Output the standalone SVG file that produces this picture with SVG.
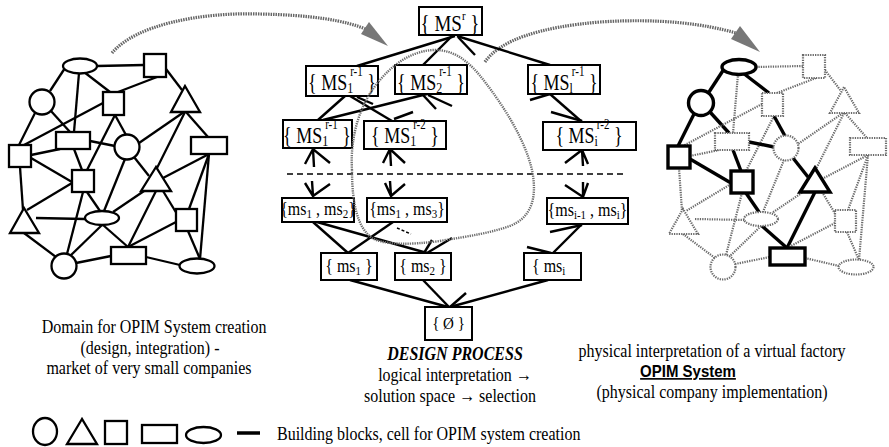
<svg xmlns="http://www.w3.org/2000/svg" width="889" height="447" viewBox="0 0 889 447">
<style>
.n{fill:#fff;stroke:#000;stroke-width:2.3}
.bn{fill:#fff;stroke:#000;stroke-width:3.4}
.dn{fill:#fff;stroke:#6a6a6a;stroke-width:2.2;stroke-dasharray:1.3 1.1}
.e line{stroke:#000;stroke-width:2.3}
.d{stroke:#6a6a6a;stroke-width:2.2;stroke-dasharray:1.3 1.1}
.b{stroke:#000;stroke-width:3.4}
.box{fill:#fff;stroke:#000;stroke-width:2}
.lat line,.lat path{stroke:#000;stroke-width:2.4;fill:none}
.arc{fill:none;stroke:#666;stroke-width:3.2;stroke-dasharray:1.5 1}
.loop{fill:none;stroke:#6e6e6e;stroke-width:2.4;stroke-dasharray:1.3 1}
.ah{fill:#777}
text{font-family:"Liberation Serif","Times New Roman",serif;fill:#000}
.s19{font-size:19px}.s18{font-size:18px}.s16{font-size:16px}.s15{font-size:15px}
.sb{font-size:12px}.sp{font-size:11px}.sb2{font-size:11px}
.dp{font-size:16px;font-weight:bold;font-style:italic}
.sans{font-family:"Liberation Sans",Arial,sans-serif;font-weight:bold;font-size:15px;text-decoration:underline}
</style>

<g id="arcs">
<path class="arc" d="M112,53 C135,25 200,12 260,14 C310,15 345,20 368,30"/>
<polygon class="ah" points="369,22 361,34 388,46"/>
<path class="arc" d="M485,62 C500,40 540,27 600,22 C660,18 705,24 736,33"/>
<polygon class="ah" points="740,26 731,39 760,52"/>
</g>

<g id="left-connectors" class="e">
<line x1="97" y1="66" x2="144" y2="65"/>
<line x1="65" y1="68" x2="50" y2="91"/>
<line x1="79" y1="73" x2="74" y2="132"/>
<line x1="84" y1="72" x2="110" y2="92"/>
<line x1="157" y1="77" x2="118" y2="92"/>
<line x1="166" y1="69" x2="182" y2="90"/>
<line x1="35" y1="113" x2="19" y2="145"/>
<line x1="51" y1="111" x2="70" y2="132"/>
<line x1="103" y1="103" x2="24" y2="145"/>
<line x1="115" y1="115" x2="87" y2="170"/>
<line x1="115" y1="115" x2="126" y2="135"/>
<line x1="184" y1="112" x2="139" y2="143"/>
<line x1="185" y1="112" x2="157" y2="168"/>
<line x1="186" y1="112" x2="208" y2="137"/>
<line x1="90" y1="141" x2="115" y2="146"/>
<line x1="74" y1="149" x2="82" y2="170"/>
<line x1="31" y1="155" x2="60" y2="149"/>
<line x1="31" y1="158" x2="72" y2="182"/>
<line x1="20" y1="167" x2="23" y2="210"/>
<line x1="72" y1="183" x2="27" y2="210"/>
<line x1="87" y1="192" x2="100" y2="211"/>
<line x1="83" y1="192" x2="67" y2="254"/>
<line x1="125" y1="159" x2="104" y2="211"/>
<line x1="134" y1="157" x2="149" y2="176"/>
<line x1="147" y1="189" x2="113" y2="212"/>
<line x1="163" y1="178" x2="209" y2="154"/>
<line x1="156" y1="191" x2="128" y2="247"/>
<line x1="163" y1="191" x2="177" y2="214"/>
<line x1="209" y1="154" x2="189" y2="209"/>
<line x1="209" y1="154" x2="200" y2="259"/>
<line x1="176" y1="222" x2="128" y2="247"/>
<line x1="188" y1="231" x2="200" y2="259"/>
<line x1="36" y1="218" x2="85" y2="219"/>
<line x1="24" y1="233" x2="56" y2="257"/>
<line x1="102" y1="225" x2="70" y2="256"/>
<line x1="103" y1="225" x2="128" y2="247"/>
<line x1="76" y1="263" x2="111" y2="256"/>
<line x1="146" y1="257" x2="180" y2="265"/>
</g>
<g id="L-E1"><ellipse class="n" cx="80" cy="66" rx="17" ry="7.5"/></g>
<g id="L-S1"><rect class="n" x="144" y="54" width="22" height="23"/></g>
<g id="L-C1"><circle class="n" cx="42" cy="102" r="12.5"/></g>
<g id="L-S2"><rect class="n" x="103" y="92" width="21" height="23"/></g>
<g id="L-T1"><polygon class="n" points="185,86 171,112 200,112"/></g>
<g id="L-R1"><rect class="n" x="56" y="132" width="34" height="17"/></g>
<g id="L-C2"><circle class="n" cx="127" cy="147" r="12.5"/></g>
<g id="L-R2"><rect class="n" x="191" y="137" width="36" height="17"/></g>
<g id="L-S3"><rect class="n" x="9" y="145" width="22" height="22"/></g>
<g id="L-S4"><rect class="n" x="72" y="170" width="22" height="22"/></g>
<g id="L-T2"><polygon class="n" points="156,167 141,191 171,191"/></g>
<g id="L-E2"><ellipse class="n" cx="102" cy="218" rx="17" ry="7"/></g>
<g id="L-S5"><rect class="n" x="176" y="209" width="21" height="22"/></g>
<g id="L-T3"><polygon class="n" points="24,208 10,233 39,233"/></g>
<g id="L-C3"><circle class="n" cx="64" cy="266" r="12.5"/></g>
<g id="L-R3"><rect class="n" x="111" y="247" width="35" height="17"/></g>
<g id="L-E3"><ellipse class="n" cx="197" cy="266" rx="17.5" ry="7.5"/></g>

<g transform="translate(659,1)">
<g id="right-connectors">
<line class="d" x1="97" y1="66" x2="144" y2="65"/>
<line class="b" x1="65" y1="68" x2="50" y2="91"/>
<line class="d" x1="79" y1="73" x2="74" y2="132"/>
<line class="b" x1="84" y1="72" x2="110" y2="92"/>
<line class="d" x1="157" y1="77" x2="118" y2="92"/>
<line class="d" x1="166" y1="69" x2="182" y2="90"/>
<line class="b" x1="35" y1="113" x2="19" y2="145"/>
<line class="b" x1="51" y1="111" x2="70" y2="132"/>
<line class="d" x1="103" y1="103" x2="24" y2="145"/>
<line class="d" x1="115" y1="115" x2="87" y2="170"/>
<line class="b" x1="115" y1="115" x2="126" y2="135"/>
<line class="d" x1="184" y1="112" x2="139" y2="143"/>
<line class="d" x1="185" y1="112" x2="157" y2="168"/>
<line class="d" x1="186" y1="112" x2="208" y2="137"/>
<line class="b" x1="90" y1="141" x2="115" y2="146"/>
<line class="b" x1="74" y1="149" x2="82" y2="170"/>
<line class="d" x1="31" y1="155" x2="60" y2="149"/>
<line class="b" x1="31" y1="158" x2="72" y2="182"/>
<line class="d" x1="20" y1="167" x2="23" y2="210"/>
<line class="d" x1="72" y1="183" x2="27" y2="210"/>
<line class="b" x1="87" y1="192" x2="100" y2="211"/>
<line class="d" x1="83" y1="192" x2="67" y2="254"/>
<line class="d" x1="125" y1="159" x2="104" y2="211"/>
<line class="b" x1="134" y1="157" x2="149" y2="176"/>
<line class="d" x1="147" y1="189" x2="113" y2="212"/>
<line class="d" x1="163" y1="178" x2="209" y2="154"/>
<line class="b" x1="156" y1="191" x2="128" y2="247"/>
<line class="d" x1="163" y1="191" x2="177" y2="214"/>
<line class="d" x1="209" y1="154" x2="189" y2="209"/>
<line class="d" x1="209" y1="154" x2="200" y2="259"/>
<line class="d" x1="176" y1="222" x2="128" y2="247"/>
<line class="d" x1="188" y1="231" x2="200" y2="259"/>
<line class="d" x1="36" y1="218" x2="85" y2="219"/>
<line class="d" x1="24" y1="233" x2="56" y2="257"/>
<line class="d" x1="102" y1="225" x2="70" y2="256"/>
<line class="b" x1="103" y1="225" x2="128" y2="247"/>
<line class="d" x1="76" y1="263" x2="111" y2="256"/>
<line class="d" x1="146" y1="257" x2="180" y2="265"/>
</g>
<g id="R-E1"><ellipse class="bn" cx="80" cy="66" rx="17" ry="7.5"/></g>
<g id="R-S1"><rect class="dn" x="144" y="54" width="22" height="23"/></g>
<g id="R-C1"><circle class="bn" cx="42" cy="102" r="12.5"/></g>
<g id="R-S2"><rect class="dn" x="103" y="92" width="21" height="23"/></g>
<g id="R-T1"><polygon class="dn" points="185,86 171,112 200,112"/></g>
<g id="R-R1"><rect class="dn" x="56" y="132" width="34" height="17"/></g>
<g id="R-C2"><circle class="dn" cx="127" cy="147" r="12.5"/></g>
<g id="R-R2"><rect class="dn" x="191" y="137" width="36" height="17"/></g>
<g id="R-S3"><rect class="bn" x="9" y="145" width="22" height="22"/></g>
<g id="R-S4"><rect class="bn" x="72" y="170" width="22" height="22"/></g>
<g id="R-T2"><polygon class="bn" points="156,167 141,191 171,191"/></g>
<g id="R-E2"><ellipse class="dn" cx="102" cy="218" rx="17" ry="7"/></g>
<g id="R-S5"><rect class="dn" x="176" y="209" width="21" height="22"/></g>
<g id="R-T3"><polygon class="dn" points="24,208 10,233 39,233"/></g>
<g id="R-C3"><circle class="dn" cx="64" cy="266" r="12.5"/></g>
<g id="R-R3"><rect class="bn" x="111" y="247" width="35" height="17"/></g>
<g id="R-E3"><ellipse class="dn" cx="197" cy="266" rx="17.5" ry="7.5"/></g>
</g>

<g id="lattice-connectors" class="lat">
<line x1="455" y1="36" x2="357" y2="66"/>
<line x1="452" y1="36" x2="423" y2="65"/>
<line x1="457" y1="36" x2="550" y2="65"/>
<line x1="458" y1="37" x2="475" y2="55"/>
<line x1="345" y1="96" x2="318" y2="120"/>
<line x1="350" y1="96" x2="392" y2="121"/>
<line x1="357" y1="97" x2="373" y2="104"/>
<line x1="427" y1="94" x2="323" y2="120"/>
<line x1="423" y1="95" x2="436" y2="109"/>
<line x1="428" y1="95" x2="452" y2="106"/>
<line x1="394" y1="119" x2="413" y2="112"/>
<line x1="550" y1="94" x2="582" y2="122"/>
<line x1="530" y1="100" x2="550" y2="94"/>
<line x1="551" y1="112" x2="582" y2="121"/>
<path d="M305,164 L313,149 L330,163 M313,149 L314,167"/>
<path d="M383,163 L390,149 L405,163 M390,149 L391,166"/>
<path d="M565,163 L582,150 L588,164 M582,150 L583,166"/>
<line x1="287" y1="174" x2="624" y2="174" style="stroke-width:1.5;stroke-dasharray:6 4"/>
<path d="M305,183 L313,196 L330,184 M312,181 L313,196"/>
<path d="M385,183 L391,196 L405,184 M390,181 L391,196"/>
<path d="M565,185 L583,197 L588,183 M583,182 L583,197"/>
<line x1="313" y1="222" x2="348" y2="253"/>
<line x1="317" y1="222" x2="427" y2="253"/>
<line x1="393" y1="222" x2="348" y2="253"/>
<line x1="397" y1="228" x2="411" y2="234" style="stroke-width:1.5;stroke-dasharray:3 2"/>
<line x1="432" y1="240" x2="424" y2="253"/>
<line x1="452" y1="238" x2="427" y2="253"/>
<line x1="582" y1="224" x2="553" y2="253"/>
<line x1="550" y1="232" x2="582" y2="225"/>
<line x1="527" y1="247" x2="551" y2="253"/>
<line x1="350" y1="280" x2="448" y2="307"/>
<line x1="423" y1="280" x2="449" y2="307"/>
<line x1="548" y1="280" x2="450" y2="307"/>
<line x1="450" y1="307" x2="466" y2="293"/>
</g>

<g id="n-MSr"><rect class="box" x="419" y="7" width="63" height="28"/>
<text class="s19" text-anchor="middle" transform="translate(450 31) scale(1 1.2)">{ MS<tspan class="sp" dy="-9">r</tspan><tspan dy="9"> }</tspan></text></g>
<g id="n-MS1r1"><rect class="box" x="306" y="66" width="72" height="30"/>
<text class="s18" text-anchor="middle" transform="translate(342 90) scale(1 1.25)">{ MS<tspan class="sb" dy="2.5">1</tspan><tspan class="sp" dx="-3" dy="-13.5">r-1</tspan><tspan dy="11"> }</tspan></text></g>
<g id="n-MS2r1"><rect class="box" x="395" y="65" width="72" height="29"/>
<text class="s18" text-anchor="middle" transform="translate(431 90) scale(1 1.25)">{ MS<tspan class="sb" dy="2.5">2</tspan><tspan class="sp" dx="-3" dy="-13.5">r-1</tspan><tspan dy="11"> }</tspan></text></g>
<g id="n-MSir1"><rect class="box" x="528" y="65" width="72" height="29"/>
<text class="s18" text-anchor="middle" transform="translate(564 90) scale(1 1.25)">{ MS<tspan class="sb" dy="2.5">l</tspan><tspan class="sp" dx="-1" dy="-13.5">r-1</tspan><tspan dy="11"> }</tspan></text></g>
<g id="n-MS1r1b"><rect class="box" x="283" y="120" width="69" height="28"/>
<text class="s18" text-anchor="middle" transform="translate(317 143) scale(1 1.25)">{ MS<tspan class="sb" dy="2.5">1</tspan><tspan class="sp" dx="-3" dy="-13.5">r-1</tspan><tspan dy="11"> }</tspan></text></g>
<g id="n-MS1r2"><rect class="box" x="364" y="121" width="82" height="28"/>
<text class="s18" text-anchor="middle" transform="translate(405 143) scale(1 1.25)">{ MS<tspan class="sb" dy="2.5">1</tspan><tspan class="sp" dx="-3" dy="-13.5">r-2</tspan><tspan dy="11"> }</tspan></text></g>
<g id="n-MSir2"><rect class="box" x="543" y="122" width="93" height="28"/>
<text class="s18" text-anchor="middle" transform="translate(589 143) scale(1 1.25)">{ MS<tspan class="sb" dy="2.5">i</tspan><tspan class="sp" dx="-1" dy="-13.5">r-2</tspan><tspan dy="11"> }</tspan></text></g>
<g id="n-ms12"><rect class="box" x="282" y="198" width="72" height="24"/>
<text class="s16" text-anchor="middle" transform="translate(318 215) scale(1 1.2)">{ms<tspan class="sb2" dy="2.5">1</tspan><tspan dy="-2.5"> , ms</tspan><tspan class="sb2" dy="2.5">2</tspan><tspan dy="-2.5">}</tspan></text></g>
<g id="n-ms13"><rect class="box" x="367" y="198" width="80" height="24"/>
<text class="s16" text-anchor="middle" transform="translate(407 215) scale(1 1.2)">{ms<tspan class="sb2" dy="2.5">1</tspan><tspan dy="-2.5"> , ms</tspan><tspan class="sb2" dy="2.5">3</tspan><tspan dy="-2.5">}</tspan></text></g>
<g id="n-msi1i"><rect class="box" x="547" y="198" width="81" height="26"/>
<text class="s16" text-anchor="middle" transform="translate(587.5 216) scale(1 1.2)">{ms<tspan class="sb2" dy="2.5">i-1</tspan><tspan dy="-2.5"> , ms</tspan><tspan class="sb2" dy="2.5">i</tspan><tspan dy="-2.5">}</tspan></text></g>
<g id="n-ms1"><rect class="box" x="321" y="253" width="56" height="27"/>
<text class="s16" text-anchor="middle" transform="translate(349 272) scale(1 1.2)">{ ms<tspan class="sb2" dy="2.5">1</tspan><tspan dy="-2.5"> }</tspan></text></g>
<g id="n-ms2"><rect class="box" x="395" y="253" width="56" height="27"/>
<text class="s16" text-anchor="middle" transform="translate(423 272) scale(1 1.2)">{ ms<tspan class="sb2" dy="2.5">2</tspan><tspan dy="-2.5"> }</tspan></text></g>
<g id="n-msi"><rect class="box" x="524" y="253" width="57" height="27"/>
<text class="s16" transform="translate(532 272) scale(1 1.2)">{ ms<tspan class="sb2" dy="2.5">i</tspan></text></g>
<g id="n-empty"><rect class="box" x="425" y="307" width="47" height="33"/>
<text class="s15" text-anchor="middle" transform="translate(448.5 329) scale(1 1.15)">{ Ø }</text></g>

<path class="loop" d="M352,170 C350,140 358,105 380,80 C395,62 415,50 435,50 C455,50 470,62 485,82 C505,108 525,140 532,170 C538,200 530,218 510,226 C490,233 470,236 440,241 C410,245 385,245 372,238 C358,228 352,205 352,170 Z"/>

<g id="captions">
<text class="s16" text-anchor="middle" transform="translate(154 333) scale(1 1.15)">Domain for OPIM System creation</text>
<text class="s16" text-anchor="middle" transform="translate(150 354) scale(1 1.15)">(design, integration) -</text>
<text class="s16" text-anchor="middle" transform="translate(149 374) scale(1 1.15)">market of very small companies</text>
<text class="dp" text-anchor="middle" transform="translate(455 360) scale(1 1.15)">DESIGN PROCESS</text>
<text class="s16" text-anchor="middle" transform="translate(455 381) scale(1 1.15)">logical interpretation →</text>
<text class="s16" text-anchor="middle" transform="translate(450 402) scale(1 1.15)">solution space → selection</text>
<text class="s16" text-anchor="middle" transform="translate(712 357) scale(1 1.15)">physical interpretation of a virtual factory</text>
<text class="sans" text-anchor="middle" transform="translate(688 377) scale(1 1.1)">OPIM System</text>
<text class="s16" text-anchor="middle" transform="translate(712 398) scale(1 1.15)">(physical company implementation)</text>
</g>

<g id="legend">
<ellipse class="n" cx="45" cy="431.5" rx="12" ry="13.5"/>
<polygon class="n" points="82,419 67,444 97,444"/>
<rect class="n" x="105" y="421" width="22" height="23"/>
<rect class="n" x="142" y="425" width="35" height="18"/>
<ellipse class="n" cx="203.5" cy="435" rx="17.5" ry="8"/>
<line x1="237" y1="433" x2="260" y2="433" stroke="#000" stroke-width="3.5"/>
<text class="s16" transform="translate(277 440) scale(1 1.15)">Building blocks, cell for OPIM system creation</text>
</g>
</svg>
